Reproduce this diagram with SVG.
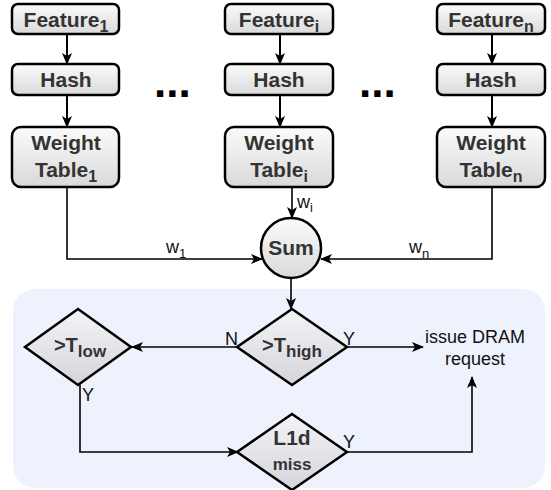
<svg xmlns="http://www.w3.org/2000/svg" width="551" height="490" viewBox="0 0 551 490">
<defs>
<linearGradient id="gbox" x1="0" y1="0" x2="0" y2="1">
<stop offset="0" stop-color="#fbfbfb"/>
<stop offset="1" stop-color="#d9d9d9"/>
</linearGradient>
<linearGradient id="gdia" x1="0" y1="0" x2="0" y2="1">
<stop offset="0" stop-color="#f4f4f8"/>
<stop offset="1" stop-color="#d4d4da"/>
</linearGradient>
<marker id="arr" markerWidth="12" markerHeight="10" refX="11" refY="5" orient="auto" markerUnits="userSpaceOnUse">
<path d="M0,0 L12,5 L0,10 L3,5 z" fill="#000"/>
</marker>
<style>
.box{fill:url(#gbox);stroke:#000;stroke-width:2.5}
.dia{fill:url(#gdia);stroke:#000;stroke-width:2.5}
.lbl{font-family:"Liberation Sans",Arial,sans-serif;font-weight:bold;font-size:21px;fill:#333;text-anchor:middle}
.sub{font-size:16px}
.edge{fill:none;stroke:#000;stroke-width:1.6}
.edgeb{fill:none;stroke:#000;stroke-width:2}
.el{font-family:"Liberation Sans",Arial,sans-serif;font-size:18px;fill:#111}
.dots{font-family:"Liberation Sans",Arial,sans-serif;font-weight:bold;font-size:44px;fill:#000}
</style>
</defs>
<rect x="13" y="289" width="532" height="199" rx="22" fill="#eef2fc"/>

<g id="connectors">
<line class="edgeb" x1="67" y1="35" x2="67" y2="64" marker-end="url(#arr)"/>
<line class="edgeb" x1="67" y1="95" x2="67" y2="127" marker-end="url(#arr)"/>
<line class="edgeb" x1="280" y1="35" x2="280" y2="64" marker-end="url(#arr)"/>
<line class="edgeb" x1="280" y1="95" x2="280" y2="127" marker-end="url(#arr)"/>
<line class="edgeb" x1="492" y1="35" x2="492" y2="64" marker-end="url(#arr)"/>
<line class="edgeb" x1="492" y1="95" x2="492" y2="127" marker-end="url(#arr)"/>
<polyline class="edge" points="67,188 67,259 262,259" marker-end="url(#arr)"/>
<polyline class="edge" points="492,188 492,259 321,259" marker-end="url(#arr)"/>
<line class="edge" x1="292" y1="188" x2="292" y2="218" marker-end="url(#arr)"/>
<line class="edge" x1="291" y1="279" x2="291" y2="309" marker-end="url(#arr)"/>
<line class="edge" x1="237" y1="347" x2="132" y2="347" marker-end="url(#arr)"/>
<line class="edge" x1="347" y1="347" x2="423" y2="347" marker-end="url(#arr)"/>
<polyline class="edge" points="80,385 80,452 238,452" marker-end="url(#arr)"/>
<polyline class="edge" points="347,452 472,452 472,377" marker-end="url(#arr)"/>
<text class="el" x="166" y="253">w<tspan font-size="13" dy="5">1</tspan></text>
<text class="el" x="409" y="253">w<tspan font-size="13" dy="5">n</tspan></text>
<text class="el" x="297" y="208">w<tspan font-size="13" dy="4">i</tspan></text>
<text class="el" x="238" y="345" text-anchor="end">N</text>
<text class="el" x="343" y="345">Y</text>
<text class="el" x="82" y="401">Y</text>
<text class="el" x="343" y="448">Y</text>
</g>

<g id="feature1"><rect class="box" x="12" y="4" width="107" height="30" rx="6"/><text class="lbl" x="66" y="27">Feature<tspan class="sub" dy="5">1</tspan></text></g>
<g id="hash1"><rect class="box" x="12" y="64" width="107" height="31" rx="6"/><text class="lbl" x="66" y="87">Hash</text></g>
<g id="table1"><rect class="box" x="12" y="127" width="107" height="60" rx="9"/><text class="lbl" x="66" y="150">Weight</text><text class="lbl" x="66" y="177">Table<tspan class="sub" dy="5">1</tspan></text></g>

<g id="featurei"><rect class="box" x="225" y="4" width="108" height="30" rx="6"/><text class="lbl" x="279" y="27">Feature<tspan class="sub" dy="5">i</tspan></text></g>
<g id="hashi"><rect class="box" x="225" y="64" width="108" height="31" rx="6"/><text class="lbl" x="279" y="87">Hash</text></g>
<g id="tablei"><rect class="box" x="225" y="127" width="108" height="60" rx="9"/><text class="lbl" x="279" y="150">Weight</text><text class="lbl" x="279" y="177">Table<tspan class="sub" dy="5">i</tspan></text></g>

<g id="featuren"><rect class="box" x="437" y="4" width="108" height="30" rx="6"/><text class="lbl" x="491" y="27">Feature<tspan class="sub" dy="5">n</tspan></text></g>
<g id="hashn"><rect class="box" x="437" y="64" width="108" height="31" rx="6"/><text class="lbl" x="491" y="87">Hash</text></g>
<g id="tablen"><rect class="box" x="437" y="127" width="108" height="60" rx="9"/><text class="lbl" x="491" y="150">Weight</text><text class="lbl" x="491" y="177">Table<tspan class="sub" dy="5">n</tspan></text></g>

<g id="dots1"><text class="dots" x="154" y="97">...</text></g>
<g id="dots2"><text class="dots" x="359" y="97">...</text></g>

<g id="sum"><circle class="box" cx="291" cy="248" r="30"/><text class="lbl" x="291" y="255">Sum</text></g>

<g id="thigh"><polygon class="dia" points="292,309 347,347 292,385 237,347"/><text class="lbl" x="292" y="352" style="font-size:20px">&gt;T<tspan style="font-size:17px" dy="5">high</tspan></text></g>
<g id="tlow"><polygon class="dia" points="78,309 131,347 78,385 25,347"/><text class="lbl" x="80" y="352" style="font-size:20px">&gt;T<tspan style="font-size:17px" dy="5">low</tspan></text></g>
<g id="l1d"><polygon class="dia" points="292,414 347,452 292,490 237,452"/><text class="lbl" x="292" y="445">L1d</text><text class="lbl" x="292" y="470" style="font-size:17px">miss</text></g>

<g id="dram"><text class="el" x="475" y="343" text-anchor="middle">issue DRAM</text><text class="el" x="475" y="365" text-anchor="middle">request</text></g>
</svg>
